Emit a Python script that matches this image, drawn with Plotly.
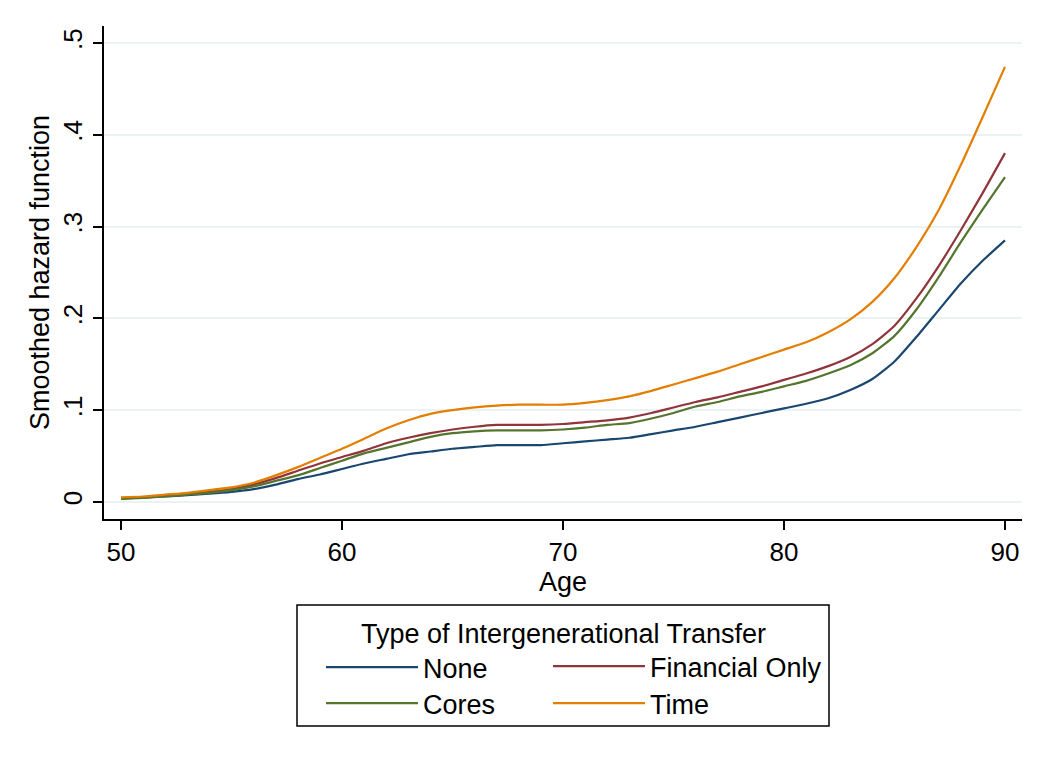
import plotly.graph_objects as go

ages = list(range(50, 91))

none_vals = [0.004, 0.005, 0.006, 0.0075, 0.009, 0.011, 0.014, 0.019, 0.025, 0.030,
             0.036, 0.042, 0.047, 0.052, 0.055, 0.058, 0.060, 0.062, 0.062, 0.062,
             0.064, 0.066, 0.068, 0.070, 0.074, 0.078, 0.082, 0.087, 0.092, 0.097,
             0.102, 0.107, 0.113, 0.122, 0.134, 0.153, 0.180, 0.209, 0.238, 0.263, 0.285]
financial_vals = [0.004, 0.005, 0.007, 0.009, 0.011, 0.014, 0.019, 0.026, 0.034, 0.042,
                  0.049, 0.056, 0.064, 0.070, 0.075, 0.079, 0.082, 0.084, 0.084, 0.084,
                  0.085, 0.087, 0.089, 0.092, 0.097, 0.103, 0.109, 0.114, 0.120, 0.126,
                  0.133, 0.140, 0.148, 0.158, 0.172, 0.192, 0.222, 0.257, 0.296, 0.337, 0.380]
cores_vals = [0.0035, 0.0045, 0.006, 0.008, 0.010, 0.013, 0.017, 0.023, 0.029, 0.037,
              0.045, 0.053, 0.059, 0.065, 0.071, 0.075, 0.077, 0.078, 0.078, 0.078,
              0.079, 0.081, 0.084, 0.086, 0.091, 0.097, 0.104, 0.109, 0.115, 0.120,
              0.126, 0.132, 0.140, 0.149, 0.162, 0.181, 0.210, 0.245, 0.283, 0.319, 0.354]
time_vals = [0.005, 0.006, 0.008, 0.010, 0.013, 0.016, 0.021, 0.029, 0.038, 0.048,
             0.058, 0.069, 0.080, 0.089, 0.096, 0.100, 0.103, 0.105, 0.106, 0.106,
             0.106, 0.108, 0.111, 0.115, 0.121, 0.128, 0.135, 0.142, 0.150, 0.158,
             0.166, 0.174, 0.185, 0.199, 0.218, 0.244, 0.278, 0.318, 0.367, 0.420, 0.474]

series_names = ["None", "Financial Only", "Cores", "Time"]
series_values = [none_vals, financial_vals, cores_vals, time_vals]
series_colors = ["#1a476f", "#90353b", "#55752f", "#e37e00"]
series_legends = ["legend", "legend2", "legend3", "legend4"]

x_ticks = [50, 60, 70, 80, 90]
y_ticks = [0, 0.1, 0.2, 0.3, 0.4, 0.5]
y_ticktext = ["0", ".1", ".2", ".3", ".4", ".5"]
legend_title = "Type of Intergenerational Transfer"

FONT = "Liberation Sans, Arial, sans-serif"
FS = 27

fig = go.Figure()
for name, vals, col, lg in zip(series_names, series_values, series_colors, series_legends):
    fig.add_trace(go.Scatter(
        x=ages, y=vals, name=name, mode="lines",
        line=dict(color=col, width=2.2, shape="spline", smoothing=0.6),
        legend=lg,
    ))

L, R, T, B = 104, 28, 26, 245
W, H = 1050, 764
pw, ph = W - L - R, H - T - B


def px_x(p):
    return (p - L) / pw


def px_y(p):
    return (H - B - p) / ph


IW = 92
COL1, COL2 = 321, 548


def leg(left, top, title=None, entrywidth=None):
    d = dict(
        orientation="h", x=px_x(left), xanchor="left", y=px_y(top), yanchor="top",
        font=dict(size=FS), itemwidth=IW, visible=True,
        bgcolor="rgba(0,0,0,0)", borderwidth=0,
    )
    if title:
        d["title"] = dict(text=title, side="top center", font=dict(size=FS))
    if entrywidth:
        d["entrywidth"] = entrywidth
    return d


fig.update_layout(
    width=W, height=H, showlegend=True,
    margin=dict(l=L, r=R, t=T, b=B, autoexpand=False),
    paper_bgcolor="white", plot_bgcolor="white",
    font=dict(family=FONT, size=FS, color="black"),
    xaxis=dict(
        range=[49.23, 90.77], tickvals=x_ticks,
        showgrid=False, zeroline=False, automargin=False,
        showline=True, linecolor="black", linewidth=1.5,
        ticks="outside", ticklen=9, tickwidth=1.5, tickcolor="black",
        tickfont=dict(size=FS - 1), ticklabelstandoff=0,
        title=dict(text="Age", font=dict(size=FS), standoff=0),
    ),
    yaxis=dict(
        range=[-0.0185, 0.5185], tickvals=y_ticks, ticktext=y_ticktext,
        tickangle=-90, automargin=False,
        showgrid=True, gridcolor="#eaf2f3", gridwidth=1.5, zeroline=False,
        showline=True, linecolor="black", linewidth=1.5,
        ticks="outside", ticklen=9, tickwidth=1.5, tickcolor="black",
        tickfont=dict(size=FS - 1), ticklabelstandoff=1,
        title=dict(text="Smoothed hazard function", font=dict(size=FS), standoff=0),
    ),
    legend=leg(COL1, 608, legend_title, entrywidth=378),
    legend2=leg(COL2, 642),
    legend3=leg(COL1, 679),
    legend4=leg(COL2, 679),
    shapes=[dict(
        type="rect", xref="paper", yref="paper",
        x0=px_x(297), x1=px_x(829), y0=px_y(726), y1=px_y(605),
        line=dict(color="black", width=1.5), fillcolor="rgba(0,0,0,0)",
    )],
)

fig.write_html("out.html", config={"displayModeBar": False},
               post_script="document.body.style.margin='0';")
